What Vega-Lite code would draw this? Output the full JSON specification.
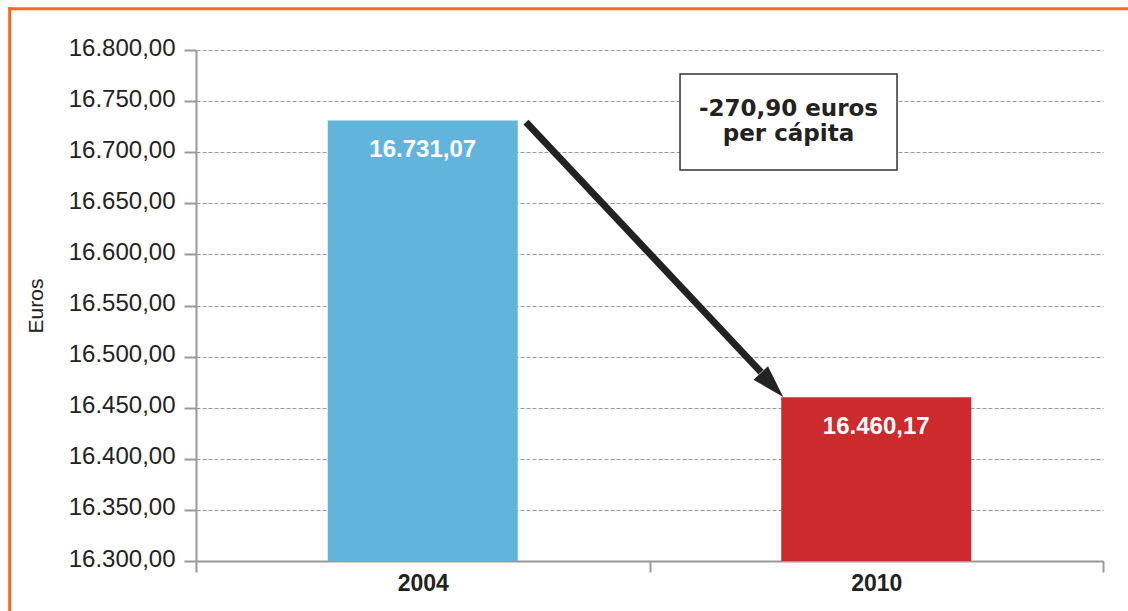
{
  "$schema": "https://vega.github.io/schema/vega-lite/v6.json",
  "width": 907,
  "height": 511,
  "autosize": {"type": "none"},
  "padding": {"left": 196, "top": 50, "right": 25, "bottom": 50},
  "background": "white",
  "config": {
    "locale": {"number": {"decimal": ",", "thousands": ".", "grouping": [3], "currency": ["", " €"]}},
    "view": {"stroke": null},
    "font": "Liberation Sans"
  },
  "data": {"values": [
    {"year": "2004", "euros": 16731.07},
    {"year": "2010", "euros": 16460.17}
  ]},
  "layer": [
    {
      "layer": [
        {
          "mark": {"type": "bar", "width": {"band": 0.419}},
          "encoding": {
            "x": {
              "field": "year", "type": "nominal",
              "scale": {"paddingInner": 0, "paddingOuter": 0},
              "axis": {
                "title": null, "labelAngle": 0, "tickBand": "extent", "grid": false,
                "domainColor": "#999999", "domainWidth": 2,
                "tickColor": "#999999", "tickWidth": 2, "tickSize": 11,
                "labelFontSize": 23, "labelFontWeight": "bold", "labelColor": "#222222",
                "labelBaseline": "alphabetic", "labelPadding": 18
              }
            },
            "y": {
              "field": "euros", "type": "quantitative",
              "scale": {"domain": [16300, 16800], "zero": false, "nice": false},
              "axis": {
                "title": "Euros",
                "values": [16300, 16350, 16400, 16450, 16500, 16550, 16600, 16650, 16700, 16750, 16800],
                "format": ",.2f",
                "grid": true, "gridColor": "#999999", "gridDash": [4, 2], "gridWidth": 1,
                "domainColor": "#999999", "domainWidth": 2,
                "tickColor": "#999999", "tickWidth": 2, "tickSize": 12,
                "labelFontSize": 24, "labelColor": "#222222", "labelPadding": 9,
                "labelBaseline": "alphabetic", "labelOffset": 5,
                "labelOverlap": false, "labelFlush": false, "labelBound": false,
                "titleFontSize": 21, "titleFontWeight": "normal", "titleColor": "#222222",
                "titlePadding": 22
              }
            },
            "y2": {"datum": 16300},
            "color": {
              "field": "year", "type": "nominal",
              "scale": {"range": ["#61b4dc", "#cc2a2c"]},
              "legend": null
            }
          }
        },
        {
          "mark": {"type": "text", "baseline": "alphabetic", "dy": 36.5, "fontSize": 24, "fontWeight": "bold", "color": "white"},
          "encoding": {
            "x": {"field": "year", "type": "nominal"},
            "y": {"field": "euros", "type": "quantitative"},
            "text": {"field": "euros", "type": "quantitative", "format": ",.2f"}
          }
        }
      ]
    },
    {
      "data": {"values": [{}]},
      "layer": [
        {
          "mark": {"type": "rule", "color": "#f7671e", "strokeWidth": 3},
          "encoding": {
            "x": {"datum": -0.4141, "type": "quantitative", "scale": {"domain": [0, 2], "nice": false, "zero": false}, "axis": null},
            "x2": {"datum": 2.0551},
            "y": {"datum": 16840.4, "type": "quantitative"}
          }
        },
        {
          "mark": {"type": "rule", "color": "#f7671e", "strokeWidth": 3},
          "encoding": {
            "x": {"datum": -0.4108, "type": "quantitative", "axis": null},
            "y": {"datum": 16841.9, "type": "quantitative"},
            "y2": {"datum": 16251.1}
          }
        },
        {
          "mark": {"type": "rule", "color": "#222222", "strokeWidth": 7},
          "encoding": {
            "x": {"datum": 0.7277, "type": "quantitative", "axis": null},
            "x2": {"datum": 1.2459},
            "y": {"datum": 16729.5, "type": "quantitative"},
            "y2": {"datum": 16484.9}
          }
        },
        {
          "mark": {"type": "point", "shape": "M0,-1L0.6,1L-0.6,1Z", "size": 1089, "angle": 137, "filled": true, "color": "#222222", "opacity": 1},
          "encoding": {
            "x": {"datum": 1.2701, "type": "quantitative", "axis": null},
            "y": {"datum": 16472.2, "type": "quantitative"}
          }
        },
        {
          "mark": {"type": "rect", "fill": "white", "stroke": "#333333", "strokeWidth": 1.5},
          "encoding": {
            "x": {"datum": 1.0673, "type": "quantitative", "axis": null},
            "x2": {"datum": 1.5458},
            "y": {"datum": 16776.5, "type": "quantitative"},
            "y2": {"datum": 16682.6}
          }
        },
        {
          "mark": {"type": "text", "text": ["-270,90 euros", "per cápita"], "font": "DejaVu Sans", "fontSize": 23, "fontWeight": "bold", "lineHeight": 25, "align": "center", "baseline": "alphabetic", "color": "#222222"},
          "encoding": {
            "x": {"datum": 1.3065, "type": "quantitative", "axis": null},
            "y": {"datum": 16735.4, "type": "quantitative"}
          }
        }
      ]
    }
  ],
  "resolve": {"scale": {"x": "independent"}}
}
